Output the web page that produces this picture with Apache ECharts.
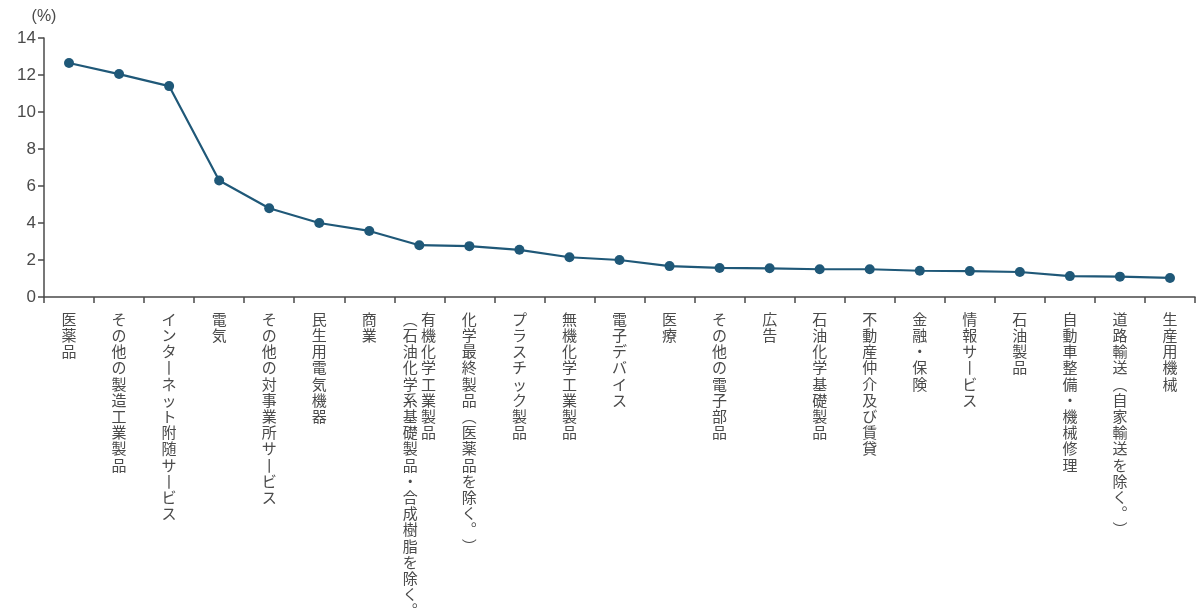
<!DOCTYPE html>
<html>
<head>
<meta charset="utf-8">
<script src="https://cdn.jsdelivr.net/npm/echarts@6/dist/echarts.min.js"></script>
<style>
  html, body { margin: 0; padding: 0; background: #fff; }
  #chart { width: 1200px; height: 615px; }
</style>
</head>
<body>
<div id="chart"></div>
<script>
// Industry categories (a "\n" separates a second column of vertical text)
const categories = [
  '医薬品',
  'その他の製造工業製品',
  'インターネット附随サービス',
  '電気',
  'その他の対事業所サービス',
  '民生用電気機器',
  '商業',
  '有機化学工業製品\n（石油化学系基礎製品・合成樹脂を除く。）',
  '化学最終製品（医薬品を除く。）',
  'プラスチック製品',
  '無機化学工業製品',
  '電子デバイス',
  '医療',
  'その他の電子部品',
  '広告',
  '石油化学基礎製品',
  '不動産仲介及び賃貸',
  '金融・保険',
  '情報サービス',
  '石油製品',
  '自動車整備・機械修理',
  '道路輸送（自家輸送を除く。）',
  '生産用機械'
];

// Share (%)
const values = [
  12.65, 12.05, 11.4, 6.3, 4.8, 4.0, 3.57, 2.8, 2.75, 2.55, 2.15, 2.0,
  1.67, 1.57, 1.55, 1.5, 1.5, 1.42, 1.4, 1.35, 1.13, 1.1, 1.03
];

const yTicks = { min: 0, max: 14, interval: 2 };

// Glyph substitutions for vertical writing
const verticalForms = { 'ー': '丨', '（': '︵', '）': '︶', '。': '︒', '、': '︑' };
const toVertical = s => Array.from(s).map(c => verticalForms[c] || c);

// Stack characters top-to-bottom; extra columns go to the left
function verticalLabel(text) {
  const cols = text.split('\n').map(toVertical);
  const rows = Math.max(...cols.map(c => c.length));
  const lines = [];
  for (let i = 0; i < rows; i++) {
    const parts = [];
    for (let j = cols.length - 1; j >= 0; j--) parts.push(cols[j][i] || '　');
    lines.push(parts.join(' '));
  }
  return lines.join('\n');
}

const chart = echarts.init(document.getElementById('chart'));
const textColor = '#4a4a4a';
const axisColor = '#4a4a4a';

chart.setOption({
  animation: false,
  backgroundColor: '#ffffff',
  grid: { left: 44, right: 5, top: 38, bottom: 318, containLabel: false, outerBoundsMode: 'none' },
  xAxis: {
    type: 'category',
    data: categories,
    boundaryGap: true,
    axisLine: { lineStyle: { color: axisColor, width: 1.5 } },
    axisTick: { show: true, inside: false, length: 6, interval: 0,
                lineStyle: { color: axisColor, width: 1.5 } },
    axisLabel: {
      interval: 0,
      hideOverlap: false,
      margin: 14,
      color: textColor,
      fontFamily: 'Noto Sans CJK JP',
      fontSize: 15,
      lineHeight: 16.2,
      verticalAlign: 'top',
      formatter: verticalLabel
    }
  },
  yAxis: {
    type: 'value',
    min: yTicks.min,
    max: yTicks.max,
    interval: yTicks.interval,
    name: '(%)',
    nameLocation: 'end',
    nameGap: 13,
    nameTextStyle: { color: textColor, fontSize: 16, fontFamily: 'Liberation Sans', align: 'center' },
    axisLine: { show: true, lineStyle: { color: axisColor, width: 1.5 } },
    axisTick: { show: true, inside: false, length: 6, lineStyle: { color: axisColor, width: 1.5 } },
    splitLine: { show: false },
    axisLabel: { color: textColor, fontSize: 17, fontFamily: 'Liberation Sans', margin: 8 }
  },
  series: [{
    type: 'line',
    data: values,
    symbol: 'circle',
    symbolSize: 10,
    lineStyle: { color: '#1f5878', width: 2.2 },
    itemStyle: { color: '#1f5878' }
  }]
});
</script>
</body>
</html>
